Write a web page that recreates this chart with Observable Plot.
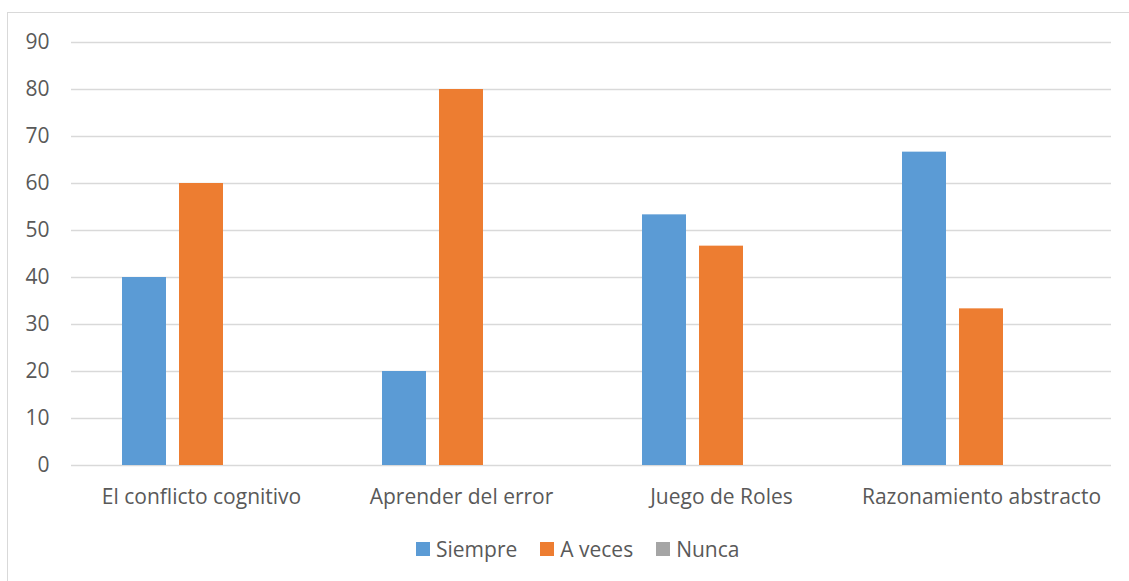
<!DOCTYPE html>
<html>
<head>
<meta charset="utf-8">
<script src="https://cdn.jsdelivr.net/npm/d3@7"></script>
<script src="https://cdn.jsdelivr.net/npm/@observablehq/plot@0.6"></script>
<style>
  html, body { margin: 0; padding: 0; background: #fff; }
  #wrap { position: relative; width: 1129px; height: 581px; overflow: hidden; font-family: "Open Sans", "Noto Sans", sans-serif; }
  #frame { position: absolute; left: 7px; top: 12px; width: 1130px; height: 600px; border: 1px solid #d9d9d9; box-sizing: border-box; }
  #chart { position: absolute; left: 0; top: 0; }
  #chart svg text { font-size: 21px; }
  #legend { position: absolute; top: 535px; left: 416px; display: flex; align-items: center; font-size: 21px; color: #595959; }
  #legend .item { display: flex; align-items: center; margin-right: 23px; }
  #legend .sw { width: 14px; height: 14px; margin-right: 6px; }
</style>
</head>
<body>
<div id="wrap">
  <div id="frame"></div>
  <div id="chart"></div>
  <div id="legend"></div>
</div>
<script>
const categories = ["El conflicto cognitivo", "Aprender del error", "Juego de Roles", "Razonamiento abstracto"];
const series = ["Siempre", "A veces", "Nunca"];
const siempre = [40, 20, 53.33, 66.67];
const aveces = [60, 80, 46.67, 33.33];
const nunca = [0, 0, 0, 0];
const colors = ["#5B9BD5", "#ED7D31", "#A5A5A5"];
const yTicks = [0, 10, 20, 30, 40, 50, 60, 70, 80, 90];

const valuesBySeries = [siempre, aveces, nunca];
const data = [];
categories.forEach((c, i) => {
  series.forEach((s, j) => data.push({ category: c, series: s, value: valuesBySeries[j][i] }));
});

const chart = Plot.plot({
  width: 1129,
  height: 520,
  marginTop: 42,
  marginBottom: 55,
  marginLeft: 70,
  marginRight: 17,
  style: { fontFamily: "'Open Sans', 'Noto Sans', sans-serif", fontSize: "21px", color: "#595959", background: "transparent" },
  fx: { domain: categories, paddingInner: 0, paddingOuter: 0, label: null },
  x: { domain: series, paddingInner: 0.224, paddingOuter: 0.857, axis: null },
  y: { domain: [0, 90], ticks: yTicks, label: null },
  color: { domain: series, range: colors },
  marks: [
    Plot.ruleY(yTicks, { stroke: "#d9d9d9", strokeWidth: 1.3, strokeOpacity: 1 }),
    Plot.barY(data.filter(d => d.value > 0), { fx: "category", x: "series", y: "value", fill: "series" }),
    Plot.axisY({ ticks: yTicks, tickSize: 0, tickPadding: 22, label: null, fontSize: 21, fill: "#595959" }),
    Plot.axisFx({ anchor: "bottom", tickSize: 0, tickPadding: 24, label: null, fontSize: 21, fill: "#595959" })
  ]
});
document.getElementById("chart").appendChild(chart);

const legend = document.getElementById("legend");
series.forEach((s, j) => {
  const item = document.createElement("div");
  item.className = "item";
  const sw = document.createElement("div");
  sw.className = "sw";
  sw.style.background = colors[j];
  const t = document.createElement("span");
  t.textContent = s;
  item.appendChild(sw);
  item.appendChild(t);
  legend.appendChild(item);
});
</script>
</body>
</html>
